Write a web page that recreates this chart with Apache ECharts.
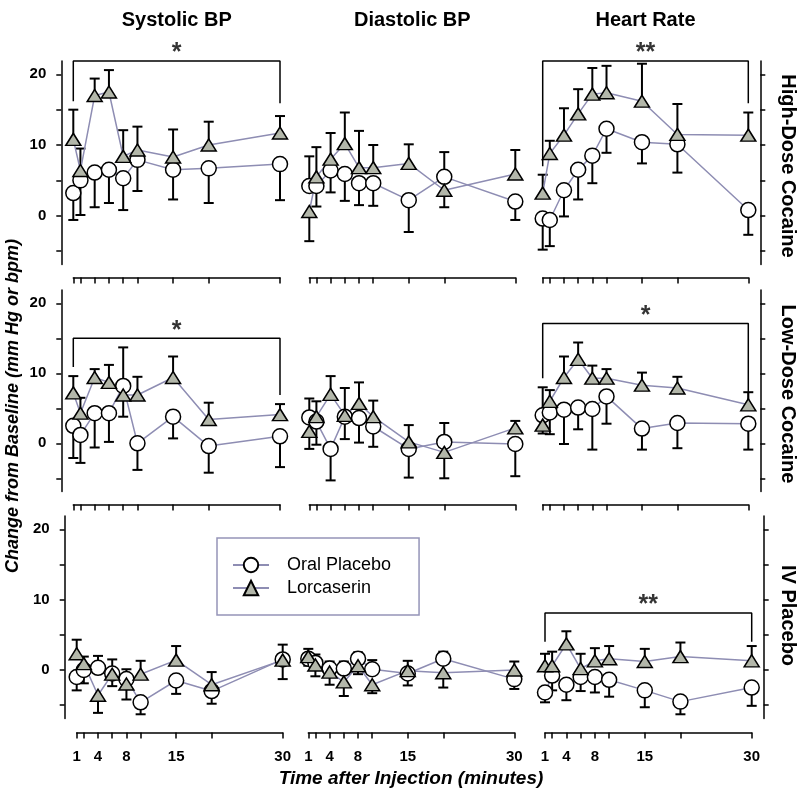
<!DOCTYPE html>
<html><head><meta charset="utf-8">
<script src="https://cdn.jsdelivr.net/npm/echarts@6/dist/echarts.min.js"></script>
<style>html,body{margin:0;padding:0;background:#fff}#c{width:800px;height:799px}</style>
</head><body><div id="c"></div>
<script>
// ---------- DATA ----------
const times = [1, 2, 4, 6, 8, 10, 15, 20, 30];
const xTickValues = [1, 2, 4, 6, 8, 10, 15, 20, 30];
const xLabelValues = [1, 4, 8, 15, 30];
const yTickValues = [-5, 0, 5, 10, 15, 20];
const yLabelValues = [0, 10, 20];
const columnTitles = ['Systolic BP', 'Diastolic BP', 'Heart Rate'];
const rowTitles = ['High-Dose Cocaine', 'Low-Dose Cocaine', 'IV Placebo'];
const seriesNames = ['Oral Placebo', 'Lorcaserin'];
const yAxisTitle = 'Change from Baseline (mm Hg or bpm)';
const xAxisTitle = 'Time after Injection (minutes)';

// SEM values: sign gives the direction in which the bar is drawn
const sbpHighPlacebo    = [3.2, 5.0, 6.1, 6.5, 5.3, 7.9, 6.5, 6.7, 7.3];
const sbpHighPlaceboErr = [-3.8, -4.9, -4.9, -4.7, -4.5, -4.4, -4.2, -4.9, -5.1];
const sbpHighLorc       = [10.8, 6.4, 17.0, 17.5, 8.4, 9.3, 8.3, 10.0, 11.7];
const sbpHighLorcErr    = [4.2, 3.1, 2.4, 3.1, 3.7, 3.3, 3.9, 3.3, 2.4];

const dbpHighPlacebo    = [4.2, 4.2, 6.4, 5.9, 4.6, 4.6, 2.2, 5.5, 2.0];
const dbpHighPlaceboErr = [4.2, -2.9, -3.1, -3.8, -3.1, -3.2, -4.5, 3.5, -2.6];
const dbpHighLorc       = [0.6, 5.5, 8.0, 10.2, 6.8, 6.8, 7.4, 3.6, 5.9];
const dbpHighLorcErr    = [-4.2, 4.2, 3.7, 4.4, 5.2, 3.2, 2.7, -2.4, 3.4];

const hrHighPlacebo     = [-0.4, -0.6, 3.6, 6.5, 8.5, 12.3, 10.4, 10.1, 0.8];
const hrHighPlaceboErr  = [-4.4, -3.7, -3.7, -4.2, -3.9, -3.4, -3.0, -4.0, -3.5];
const hrHighLorc        = [3.2, 8.8, 11.4, 14.4, 17.2, 17.4, 16.2, 11.5, 11.4];
const hrHighLorcErr     = [2.6, 1.8, 3.8, 3.5, 3.7, 3.8, 5.3, 4.3, 3.2];

const sbpLowPlacebo     = [2.5, 1.2, 4.3, 4.3, 8.2, 0.0, 3.8, -0.4, 1.0];
const sbpLowPlaceboErr  = [-4.6, -4.0, -4.9, -4.1, 5.5, -3.8, -3.1, -3.8, -4.4];
const sbpLowLorc        = [7.2, 4.3, 9.4, 8.7, 6.9, 6.9, 9.4, 3.4, 4.1];
const sbpLowLorcErr     = [2.4, 2.2, 1.2, 2.5, -3.1, 2.6, 3.0, 2.4, 1.5];

const dbpLowPlacebo     = [3.7, 3.1, -0.8, 3.8, 3.6, 2.4, -0.8, 0.2, -0.1];
const dbpLowPlaceboErr  = [2.7, -3.3, -4.5, -3.2, -3.5, -2.9, -4.1, 2.7, -4.6];
const dbpLowLorc        = [1.7, 3.8, 7.0, 4.0, 5.7, 3.8, 0.2, -1.3, 2.2];
const dbpLowLorcErr     = [-2.5, 2.2, 2.6, 3.9, 3.0, 2.3, 2.4, -3.7, 1.0];

const hrLowPlacebo      = [4.0, 4.4, 4.8, 5.1, 4.9, 6.7, 2.1, 2.9, 2.8];
const hrLowPlaceboErr   = [4.0, -3.1, -4.9, -3.1, -5.8, -3.9, -3.0, -3.6, -3.7];
const hrLowLorc         = [2.6, 6.0, 9.4, 12.0, 9.3, 9.3, 8.3, 7.9, 5.5];
const hrLowLorcErr      = [-1.2, 1.6, 3.0, 2.4, 1.8, 1.3, 1.8, 1.6, 1.8];

const sbpIvPlacebo      = [-1.0, 0.0, 0.3, -0.5, -1.3, -4.6, -1.5, -3.0, 1.5];
const sbpIvPlaceboErr   = [-1.9, -1.9, 1.7, -1.8, 1.4, -1.7, -1.9, -1.8, 2.1];
const sbpIvLorc         = [2.3, 0.9, -3.6, -0.6, -2.0, -0.6, 1.4, -2.1, 1.4];
const sbpIvLorcErr      = [2.0, 1.0, -2.5, 2.1, -2.2, 1.9, 2.0, 1.8, -2.7];

const dbpIvPlacebo      = [1.6, 1.0, 0.2, 0.2, 1.6, 0.1, -0.5, 1.6, -1.3];
const dbpIvPlaceboErr   = [-1.0, 1.2, 1.0, 1.0, 0.9, 1.3, -1.7, 1.0, -1.4];
const dbpIvLorc         = [1.9, 0.7, -0.3, -1.7, 0.6, -2.1, -0.1, -0.4, 0.0];
const dbpIvLorcErr      = [1.1, -1.6, -1.8, -2.0, -1.2, -1.2, 1.4, -2.1, 1.2];

const hrIvPlacebo       = [-3.2, -0.8, -2.1, -1.0, -1.0, -1.4, -2.9, -4.5, -2.5];
const hrIvPlaceboErr    = [-1.4, -2.1, -2.2, -2.0, -2.2, -2.4, -2.4, -1.8, -2.6];
const hrIvLorc          = [0.6, 0.6, 3.7, 0.2, 1.3, 1.6, 1.2, 1.9, 1.3];
const hrIvLorcErr       = [1.7, 2.0, 1.8, 2.1, 1.8, 1.8, 1.8, 2.0, 2.1];

// significance brackets: [left end, top, right end] in data units, and label
const sbpHighBracket = [16.2, 21.9, 15.9]; const sbpHighStars = '*';
const hrHighBracket  = [7.0, 21.9, 15.9];  const hrHighStars  = '**';
const sbpLowBracket  = [10.9, 15.0, 6.9];  const sbpLowStars  = '*';
const hrLowBracket   = [9.3, 17.1, 5.7];   const hrLowStars   = '*';
const hrIvBracket    = [4.0, 8.1, 4.0];    const hrIvStars    = '**';

// ---------- ASSEMBLY ----------
const panels = [
  [sbpHighPlacebo, sbpHighPlaceboErr, sbpHighLorc, sbpHighLorcErr, sbpHighBracket, sbpHighStars],
  [dbpHighPlacebo, dbpHighPlaceboErr, dbpHighLorc, dbpHighLorcErr, null, null],
  [hrHighPlacebo, hrHighPlaceboErr, hrHighLorc, hrHighLorcErr, hrHighBracket, hrHighStars],
  [sbpLowPlacebo, sbpLowPlaceboErr, sbpLowLorc, sbpLowLorcErr, sbpLowBracket, sbpLowStars],
  [dbpLowPlacebo, dbpLowPlaceboErr, dbpLowLorc, dbpLowLorcErr, null, null],
  [hrLowPlacebo, hrLowPlaceboErr, hrLowLorc, hrLowLorcErr, hrLowBracket, hrLowStars],
  [sbpIvPlacebo, sbpIvPlaceboErr, sbpIvLorc, sbpIvLorcErr, null, null],
  [dbpIvPlacebo, dbpIvPlaceboErr, dbpIvLorc, dbpIvLorcErr, null, null],
  [hrIvPlacebo, hrIvPlaceboErr, hrIvLorc, hrIvLorcErr, hrIvBracket, hrIvStars]
];

const FONT = "'Liberation Sans', Arial, Helvetica, sans-serif";
const LINE_COLOR = '#8e8db3';
const TRI_FILL = '#b3b7aa';
const rowTop = [60.9, 290, 515.9];
const rowHeight = [203.6, 201.6, 202.6];
const xOffset = [13, 13, 14];
const colLeft = [[73.3, 309.3, 542.7], [73.3, 309.3, 542.7], [76.7, 308.3, 545]];
const colWidth = [[206.7, 206, 205.6], [206.7, 206, 205.6], [206, 206, 206.7]];
const Y_MIN = -6.9, Y_MAX = 21.9;

function errRender(params, api) {
  const x = api.value(0), y = api.value(1), y2 = api.value(2);
  const p1 = api.coord([x, y]), p2 = api.coord([x, y2]);
  const cap = 5;
  const st = { stroke: '#000', lineWidth: 2 };
  return { type: 'group', children: [
    { type: 'line', shape: { x1: p1[0], y1: p1[1], x2: p2[0], y2: p2[1] }, style: st },
    { type: 'line', shape: { x1: p2[0] - cap, y1: p2[1], x2: p2[0] + cap, y2: p2[1] }, style: st }
  ]};
}

const grids = [], xAxes = [], yAxes = [], series = [];
panels.forEach((pn, i) => {
  const r = Math.floor(i / 3), c = i % 3;
  grids.push({ left: colLeft[r][c], top: rowTop[r], width: colWidth[r][c], height: rowHeight[r], containLabel: false });
  xAxes.push({
    gridIndex: i, type: 'value', min: 1, max: 30, offset: xOffset[r],
    axisLine: { show: true, onZero: false, lineStyle: { color: '#000', width: 1.5 } },
    axisTick: { show: true, customValues: xTickValues, length: 6, lineStyle: { color: '#000', width: 1.5 } },
    axisLabel: { show: r === 2, customValues: xLabelValues, color: '#000', fontSize: 15, fontWeight: 'bold', fontFamily: FONT, margin: 17 },
    splitLine: { show: false }
  });
  yAxes.push({
    gridIndex: i, type: 'value', min: Y_MIN, max: Y_MAX, show: c !== 1,
    position: c === 2 ? 'right' : 'left', offset: 12,
    axisLine: { show: true, onZero: false, lineStyle: { color: '#000', width: 1.5 } },
    axisTick: { show: true, customValues: yTickValues, length: 5, lineStyle: { color: '#000', width: 1.5 } },
    axisLabel: { show: c === 0, customValues: yLabelValues, color: '#000', fontSize: 15, fontWeight: 'bold', fontFamily: FONT, margin: 15 },
    splitLine: { show: false }
  });
  const [pv, pe, lv, le, br, stars] = pn;
  [[pv, pe], [lv, le]].forEach(([v, e]) => {
    series.push({
      type: 'custom', xAxisIndex: i, yAxisIndex: i, renderItem: errRender, clip: false, silent: true, z: 1,
      encode: { x: 0, y: [1, 2] },
      data: times.map((t, k) => [t, v[k], v[k] + e[k]])
    });
  });
  series.push({
    name: seriesNames[0], type: 'line', xAxisIndex: i, yAxisIndex: i, z: 3, clip: false,
    data: times.map((t, k) => [t, pv[k]]),
    symbol: 'circle', symbolSize: 15, showAllSymbol: true,
    itemStyle: { color: '#ffffff', borderColor: '#000', borderWidth: 1.5 },
    lineStyle: { color: LINE_COLOR, width: 1.5 }
  });
  series.push({
    name: seriesNames[1], type: 'line', xAxisIndex: i, yAxisIndex: i, z: 3, clip: false,
    data: times.map((t, k) => [t, lv[k]]),
    symbol: 'triangle', symbolSize: [15, 12], showAllSymbol: true,
    itemStyle: { color: TRI_FILL, borderColor: '#000', borderWidth: 1.5 },
    lineStyle: { color: LINE_COLOR, width: 1.5 }
  });
  if (br) {
    series.push({
      type: 'line', xAxisIndex: i, yAxisIndex: i, z: 2, clip: false, silent: true, symbol: 'none',
      data: [[times[0], br[0]], [times[0], br[1]], [times[times.length - 1], br[1]], [times[times.length - 1], br[2]]],
      lineStyle: { color: '#000', width: 1.5 }
    });
    series.push({
      type: 'scatter', xAxisIndex: i, yAxisIndex: i, z: 2, clip: false, silent: true, symbolSize: 0,
      data: [[(times[0] + times[times.length - 1]) / 2, br[1]]],
      label: { show: true, formatter: stars, position: 'top', distance: -5, color: '#000', fontSize: 25, fontWeight: 'bold', fontFamily: FONT }
    });
  }
});

const graphics = [];
const titleX = [176.7, 412.3, 645.5];
columnTitles.forEach((t, c) => graphics.push({ type: 'text', x: titleX[c], y: 20,
  style: { text: t, fontSize: 20, fontWeight: 'bold', fontFamily: FONT, fill: '#000', align: 'center', verticalAlign: 'middle' } }));
const rowLabelY = [166, 394, 615.5];
rowTitles.forEach((t, r) => graphics.push({ type: 'text', x: 788, y: rowLabelY[r], rotation: -Math.PI / 2,
  style: { text: t, fontSize: 20, fontWeight: 'bold', fontFamily: FONT, fill: '#000', align: 'center', verticalAlign: 'middle' } }));
graphics.push({ type: 'text', x: 13, y: 406, rotation: Math.PI / 2,
  style: { text: yAxisTitle, fontSize: 18, fontWeight: 'bold', fontStyle: 'italic', fontFamily: FONT, fill: '#000', align: 'center', verticalAlign: 'middle' } });
graphics.push({ type: 'text', x: 411, y: 779,
  style: { text: xAxisTitle, fontSize: 19, fontWeight: 'bold', fontStyle: 'italic', fontFamily: FONT, fill: '#000', align: 'center', verticalAlign: 'middle' } });

const chart = echarts.init(document.getElementById('c'), null, { renderer: 'canvas' });
chart.setOption({
  animation: false,
  backgroundColor: '#ffffff',
  grid: grids, xAxis: xAxes, yAxis: yAxes, series: series,
  legend: {
    data: seriesNames, orient: 'vertical', left: 217, top: 538,
    padding: [17, 28, 17, 15], borderColor: '#9594b8', borderWidth: 1.5,
    itemWidth: 36, itemHeight: 18, itemGap: 3, selectedMode: false,
    textStyle: { fontSize: 18, fontFamily: FONT, color: '#000', lineHeight: 20, padding: [0, 0, 0, 13] }
  },
  graphic: graphics
});
</script>
</body></html>
